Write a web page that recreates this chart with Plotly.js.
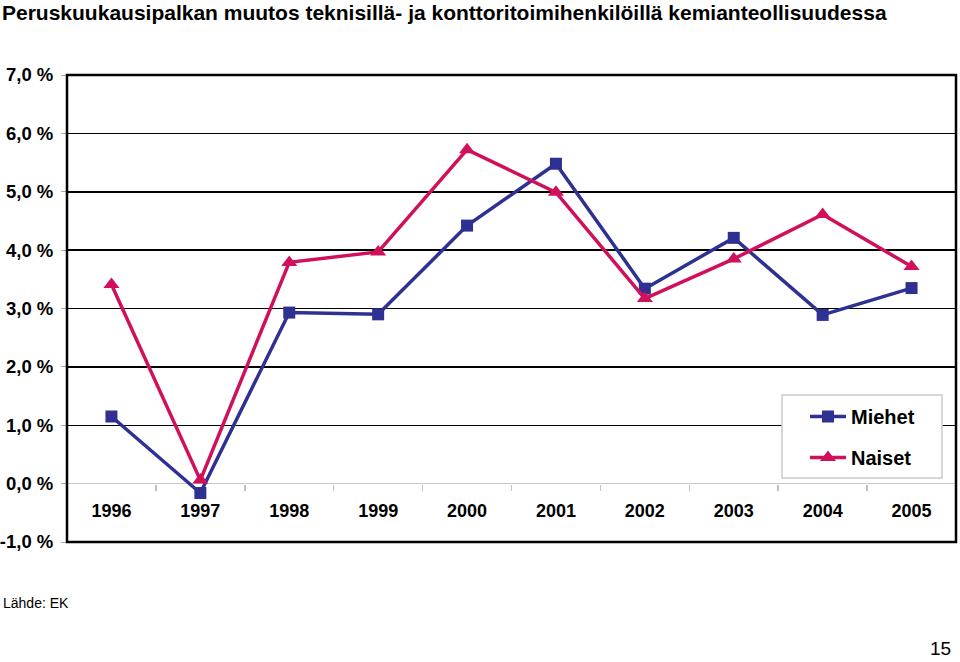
<!DOCTYPE html>
<html>
<head>
<meta charset="utf-8">
<script src="https://cdn.plot.ly/plotly-3.0.1.min.js"></script>
<style>html,body{margin:0;padding:0;background:#fff;}#chart{width:960px;height:662px;}</style>
</head>
<body>
<div id="chart"></div>
<script>
const years = ['1996','1997','1998','1999','2000','2001','2002','2003','2004','2005'];
const miehet = [1.15, -0.16, 2.93, 2.90, 4.42, 5.48, 3.34, 4.21, 2.89, 3.35];
const naiset = [3.41, 0.06, 3.79, 3.97, 5.72, 4.99, 3.17, 3.85, 4.61, 3.72];
const yTickVals = [-1, 0, 1, 2, 3, 4, 5, 6, 7];
const yTickText = ['-1,0 %', '0,0 %', '1,0 %', '2,0 %', '3,0 %', '4,0 %', '5,0 %', '6,0 %', '7,0 %'];
const titleText = 'Peruskuukausipalkan muutos teknisillä- ja konttoritoimihenkilöillä kemianteollisuudessa';
const sourceText = 'Lähde: EK';
const pageNumber = '15';

const FONT = '"Liberation Sans", Arial, Helvetica, sans-serif';
const blue = '#2E3192';
const red = '#D0105A';

// plot area in pixels: left 67, right 956, top 75, bottom 542
const PL = 67, PW = 889, PT = 75, PH = 467;
const px = v => (v - PL) / PW;
const py = v => (PT + PH - v) / PH;

const traces = [
  {x: years, y: miehet, name: 'Miehet', type: 'scatter', mode: 'lines+markers', legendgroup: 'a',
   line: {color: blue, width: 3.5}, marker: {symbol: 'square', size: 12, color: blue}},
  {x: years, y: naiset, name: 'Naiset', type: 'scatter', mode: 'lines+markers', legendgroup: 'b',
   line: {color: red, width: 3.5}, marker: {symbol: 'triangle-up', size: 14, color: red}}
];

const layout = {
  width: 960, height: 662,
  margin: {l: 67, r: 4, t: 75, b: 120},
  paper_bgcolor: '#fff', plot_bgcolor: '#fff',
  font: {family: FONT, color: '#000'},
  showlegend: true,
  xaxis: {type: 'category', range: [-0.5, 9.5], anchor: 'free', position: 0.125,
          showgrid: false, showline: false, zeroline: false,
          ticks: 'outside', ticklen: 6, tickcolor: '#c0c0c0', tickwidth: 1.5, tickson: 'boundaries',
          ticklabelstandoff: 14,
          tickfont: {size: 18, family: FONT, color: '#000', weight: 'bold'}, fixedrange: true},
  yaxis: {range: [-1, 7], tickvals: yTickVals, ticktext: yTickText,
          showgrid: true, gridcolor: '#000', gridwidth: 1.5,
          zeroline: true, zerolinecolor: '#c8c8c8', zerolinewidth: 1.5,
          ticks: 'outside', ticklen: 5, tickcolor: '#aaa', tickwidth: 1,
          ticklabelstandoff: 4,
          tickfont: {size: 18.5, family: FONT, color: '#000', weight: 'bold'}, fixedrange: true},
  legend: {x: px(805), xanchor: 'left', y: py(397), yanchor: 'top',
           bgcolor: 'rgba(0,0,0,0)', borderwidth: 0,
           font: {size: 20, family: FONT, color: '#000', weight: 'bold'},
           traceorder: 'grouped', tracegroupgap: 12, itemwidth: 36},
  shapes: [
    {type: 'rect', xref: 'paper', yref: 'paper', x0: px(782), x1: px(942), y0: py(478), y1: py(395),
     line: {color: '#cccccc', width: 1.5}, fillcolor: '#fff', layer: 'above'},
    {type: 'rect', xref: 'paper', yref: 'paper', x0: 0, x1: 1, y0: 0, y1: 1,
     line: {color: '#000', width: 2.5}, layer: 'above'}
  ],
  annotations: [
    {text: '<b>' + titleText + '</b>', xref: 'paper', yref: 'paper', x: px(1), y: py(0), xanchor: 'left', yanchor: 'top',
     borderpad: 0, showarrow: false, font: {size: 21, family: FONT, color: '#000'}},
    {text: sourceText, xref: 'paper', yref: 'paper', x: px(1), y: py(603), xanchor: 'left', yanchor: 'middle',
     showarrow: false, font: {size: 14, family: FONT, color: '#000'}},
    {text: pageNumber, xref: 'paper', yref: 'paper', x: px(953), y: py(661), xanchor: 'right', yanchor: 'bottom',
     showarrow: false, font: {size: 19, family: FONT, color: '#000'}}
  ]
};

Plotly.newPlot('chart', traces, layout, {displayModeBar: false, staticPlot: true});
</script>
</body>
</html>
